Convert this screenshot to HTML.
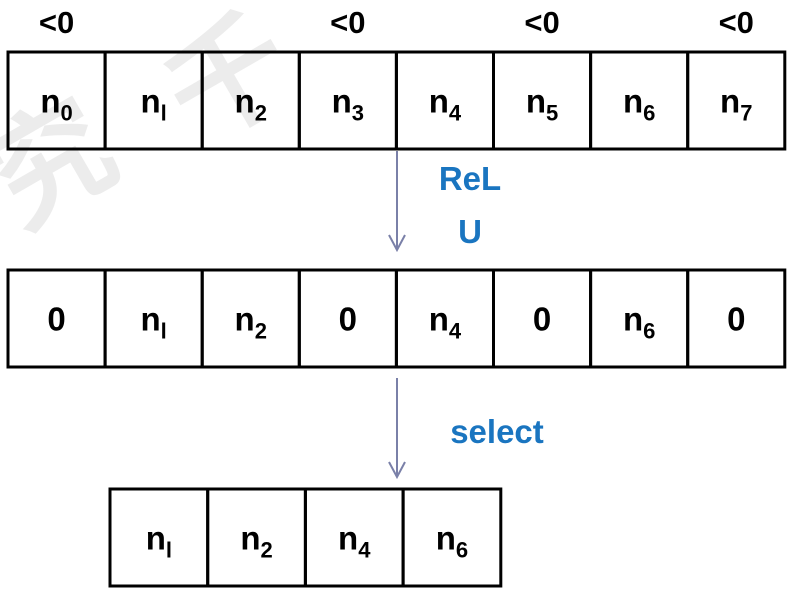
<!DOCTYPE html>
<html><head><meta charset="utf-8"><style>
html,body{margin:0;padding:0;background:#fff;width:792px;height:594px;overflow:hidden}
text{font-family:"Liberation Sans",sans-serif;font-weight:bold}
</style></head><body>
<svg id="d" width="792" height="594" viewBox="0 0 792 594">
<g id="wm" opacity="0.07">
<text x="-10" y="200" font-size="120" fill="#000" font-family="Noto Sans CJK SC" transform="rotate(-30 60 160)">究</text>
<text x="170" y="120" font-size="120" fill="#000" font-family="Noto Sans CJK SC" transform="rotate(-30 230 80)">千</text>
</g>
<g id="rows"></g>
<line x1="397" y1="151" x2="397" y2="250" stroke="#7a80a8" stroke-width="2"/>
<polyline points="389,235 397,250 405,235" fill="none" stroke="#7a80a8" stroke-width="2"/>
<line x1="397" y1="378" x2="397" y2="477" stroke="#7a80a8" stroke-width="2"/>
<polyline points="389,462 397,477 405,462" fill="none" stroke="#7a80a8" stroke-width="2"/>
<text x="470" y="190" font-size="33" fill="#1a75c0" text-anchor="middle">ReL</text>
<text x="470" y="243" font-size="33" fill="#1a75c0" text-anchor="middle">U</text>
<text x="497" y="443" font-size="33" fill="#1a75c0" text-anchor="middle">select</text>
</svg>
<script>
const row1 = ["0","1","2","3","4","5","6","7"];
const negMask = [1,0,0,1,0,1,0,1];
const row3 = ["1","2","4","6"];
const ns="http://www.w3.org/2000/svg";
const g=document.getElementById('rows');
function cell(x,y,w,h,label,sub,name){
  const r=document.createElementNS(ns,'rect');
  r.setAttribute('x',x);r.setAttribute('y',y);r.setAttribute('width',w);r.setAttribute('height',h);
  r.setAttribute('fill','none');r.setAttribute('stroke','#000');r.setAttribute('stroke-width','3');
  
  
  g.appendChild(r);
  const t=document.createElementNS(ns,'text');
  t.setAttribute('x',x+w/2);t.setAttribute('y',y+h/2+12);t.setAttribute('text-anchor','middle');
  t.setAttribute('font-size','33');
  
  
  t.textContent=label;
  if(sub!==null){const s=document.createElementNS(ns,'tspan');s.setAttribute('font-size','22');s.setAttribute('dy','8');s.textContent=sub==="1"?"l":sub;t.appendChild(s);}
  g.appendChild(t);
}
const W=97.1,H=97;
row1.forEach((s,i)=>{
  const x=8+i*W;
  cell(x,52,W,H,'n',s,'input-cell-'+i);
  if(negMask[i]){
    const t=document.createElementNS(ns,'text');
    t.setAttribute('x',x+W/2);t.setAttribute('y',33);t.setAttribute('text-anchor','middle');t.setAttribute('font-size','31');
    
    
    t.textContent='<0';g.appendChild(t);
  }
  if(negMask[i]) cell(x,270,W,H,'0',null,'relu-cell-'+i);
  else cell(x,270,W,H,'n',s,'relu-cell-'+i);
});
row3.forEach((s,i)=>cell(110+i*97.7,489,97.7,97,'n',s,'selected-cell-'+i));
</script>
</body></html>
